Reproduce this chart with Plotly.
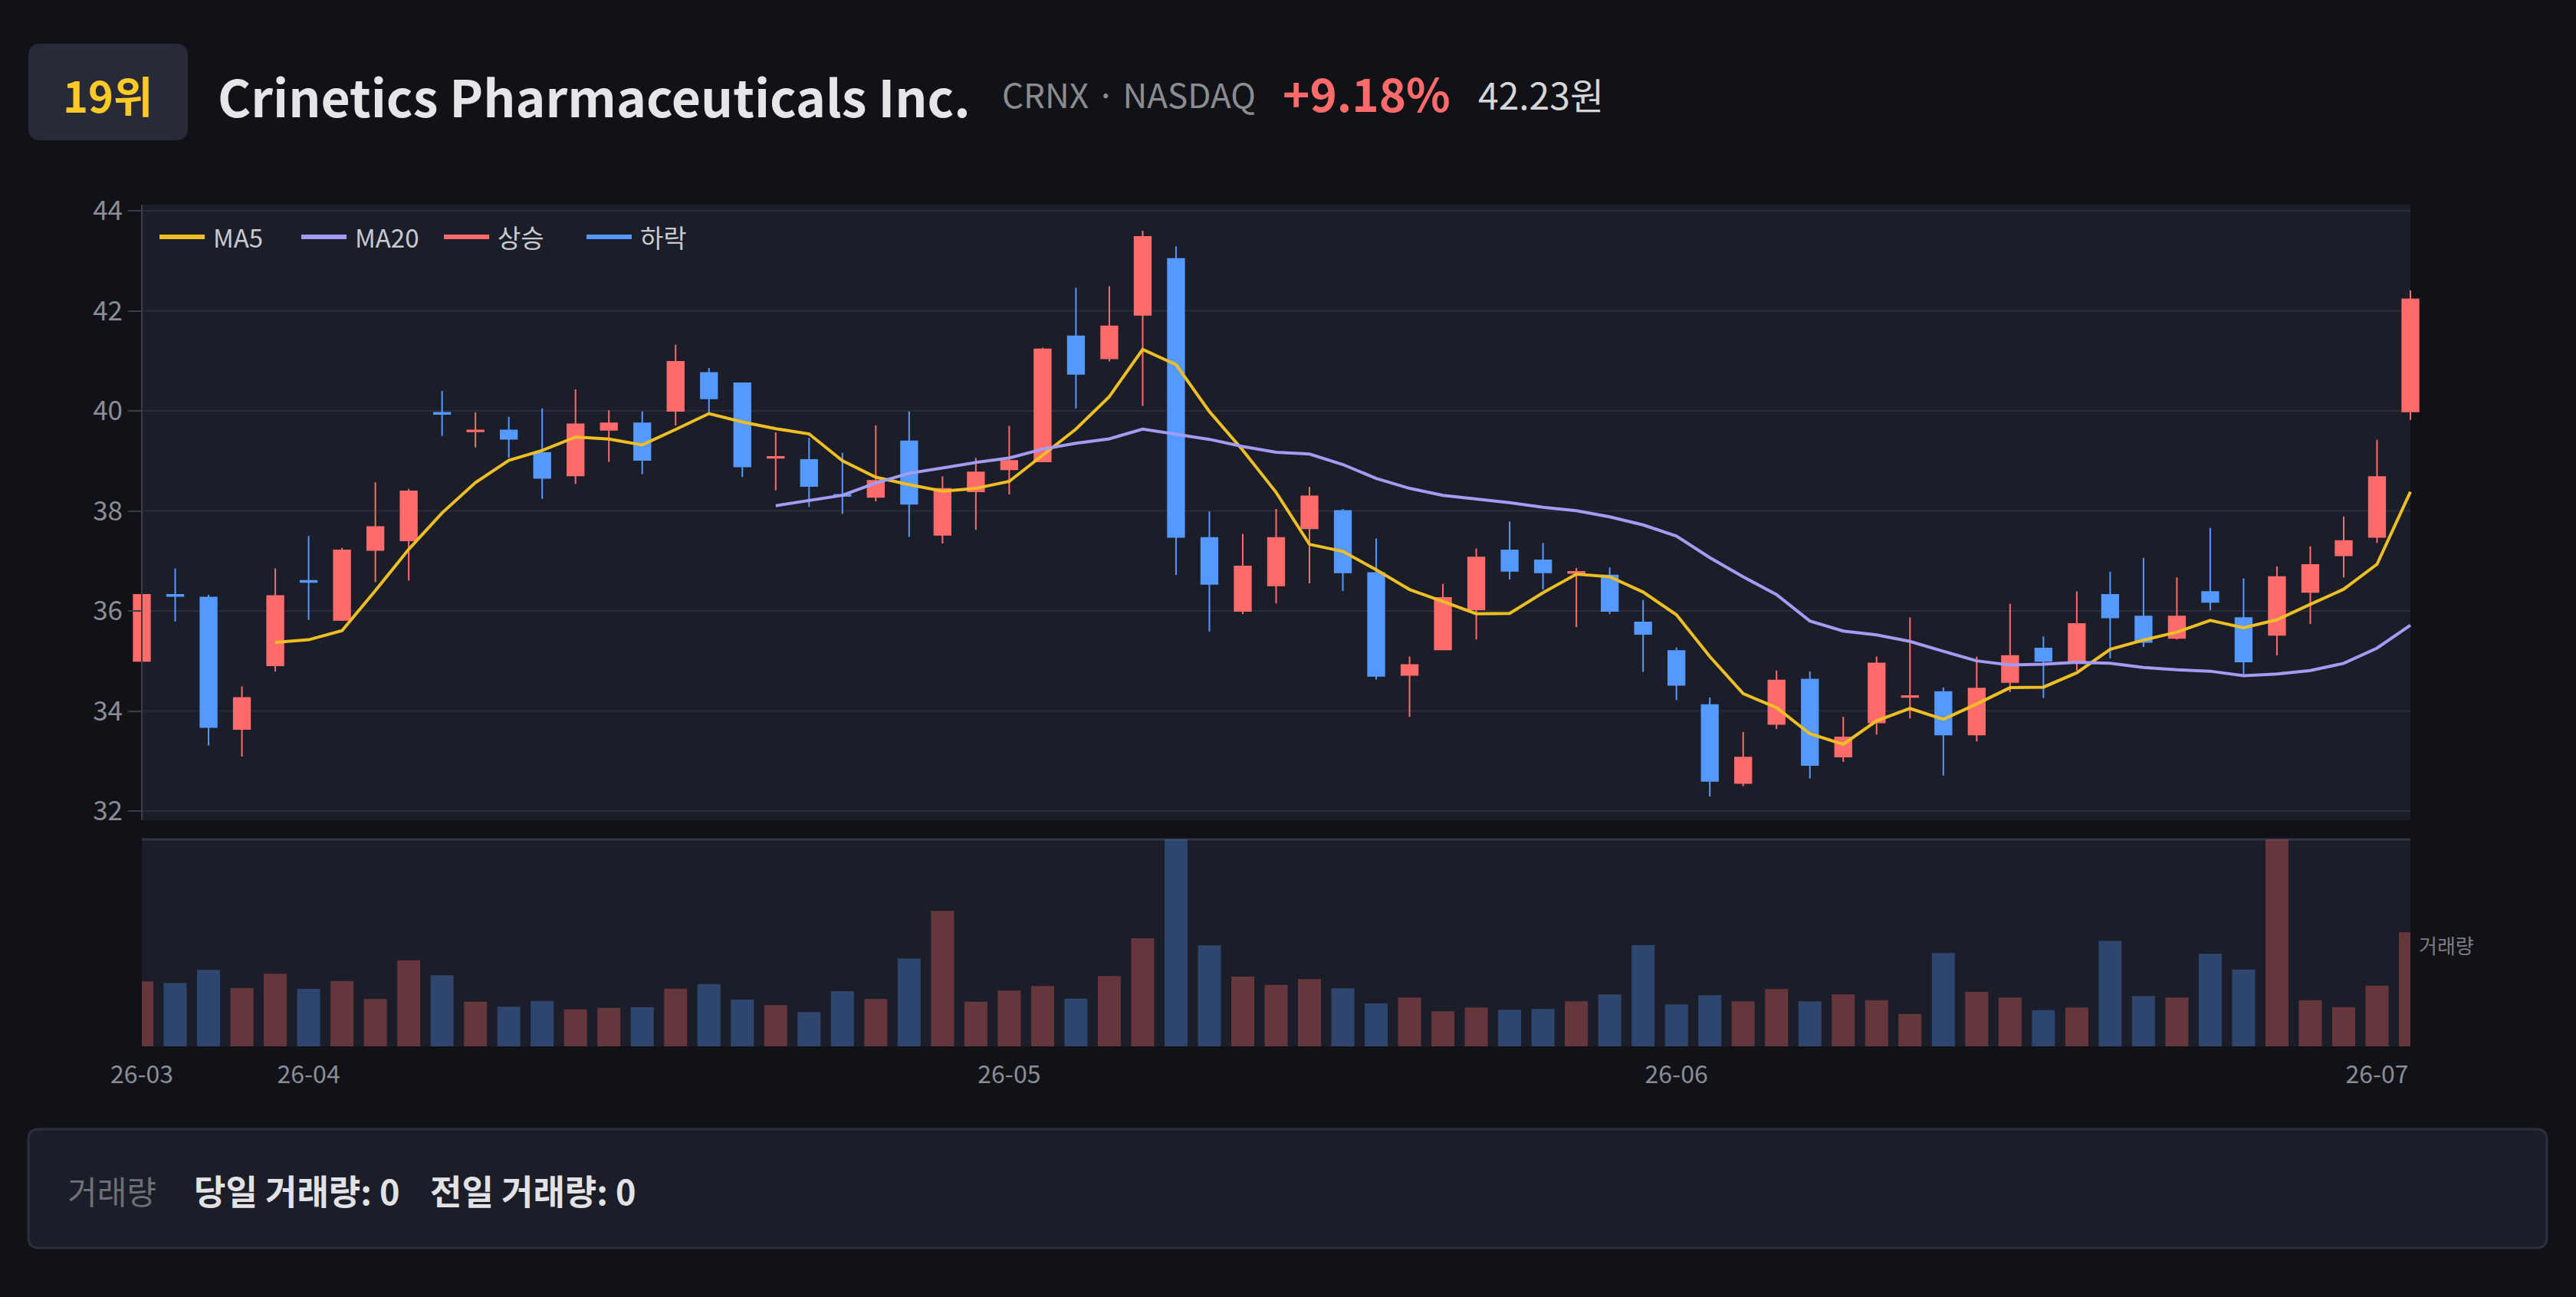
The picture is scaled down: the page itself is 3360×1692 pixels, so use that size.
import plotly.graph_objects as go
import pandas as pd

# ---------------- data ----------------
open_ = [35.00, 36.32, 36.27, 33.64, 34.91, 36.60, 35.82, 37.22, 37.41, 39.96,
         39.59, 39.61, 39.16, 38.71, 39.62, 39.75, 40.00, 40.76, 40.55, 39.06,
         39.02, 38.32, 38.28, 39.39, 37.52, 38.39, 38.83, 38.99, 41.49, 41.05,
         41.92, 43.04, 37.46, 36.00, 36.51, 37.65, 38.00, 36.76, 34.72, 35.23,
         36.03, 37.21, 37.01, 36.76, 36.71, 35.77, 35.20, 34.12, 32.56, 33.74,
         34.63, 33.09, 33.77, 34.28, 34.38, 33.53, 34.58, 35.25, 34.99, 36.32,
         35.89, 35.46, 36.38, 35.86, 35.52, 36.38, 37.11, 37.48, 39.99]
high = [36.50, 36.85, 36.32, 34.49, 36.85, 37.50, 37.26, 38.57, 38.44, 40.40,
        39.97, 39.88, 40.05, 40.43, 40.01, 39.99, 41.32, 40.86, 40.57, 39.57,
        39.46, 39.16, 39.71, 39.99, 38.69, 39.06, 39.70, 41.26, 42.46, 42.49,
        43.60, 43.29, 37.99, 37.54, 38.04, 38.48, 38.04, 37.45, 35.09, 36.54,
        37.25, 37.79, 37.36, 36.86, 36.87, 36.22, 35.27, 34.27, 33.58, 34.81,
        34.79, 33.88, 35.09, 35.87, 34.47, 35.09, 36.14, 35.49, 36.39, 36.78,
        37.06, 36.67, 37.66, 36.65, 36.89, 37.29, 37.89, 39.42, 42.41]
low = [34.89, 35.79, 33.31, 33.09, 34.79, 35.82, 35.80, 36.58, 36.61, 39.50,
       39.27, 39.06, 38.24, 38.54, 38.98, 38.73, 39.71, 39.97, 38.68, 38.41,
       38.08, 37.94, 38.19, 37.48, 37.35, 37.62, 38.33, 38.98, 40.05, 40.99,
       40.10, 36.72, 35.59, 35.94, 36.15, 36.55, 36.40, 34.63, 33.88, 35.22,
       35.43, 36.63, 36.43, 35.68, 35.94, 34.78, 34.22, 32.29, 32.50, 33.64,
       32.65, 32.98, 33.53, 33.85, 32.71, 33.39, 34.38, 34.26, 34.81, 35.05,
       35.28, 35.43, 36.01, 34.71, 35.11, 35.74, 36.67, 37.36, 39.82]
close = [36.32, 36.30, 33.68, 34.26, 36.30, 36.58, 37.21, 37.68, 38.39, 39.94,
         39.61, 39.44, 38.66, 39.73, 39.75, 39.02, 40.98, 40.25, 38.89, 39.08,
         38.50, 38.30, 38.60, 38.14, 38.44, 38.77, 39.00, 41.23, 40.74, 41.69,
         43.48, 37.48, 36.54, 36.89, 37.46, 38.29, 36.77, 34.70, 34.92, 36.26,
         37.07, 36.80, 36.77, 36.78, 36.00, 35.54, 34.52, 32.60, 33.07, 34.61,
         32.92, 33.47, 34.95, 34.30, 33.53, 34.45, 35.10, 35.00, 35.74, 35.87,
         35.38, 35.89, 36.18, 34.99, 36.68, 36.92, 37.40, 38.68, 42.23]
volume = [254, 248, 299, 228, 284, 225, 256, 185, 337, 278,
          175, 155, 178, 145, 151, 153, 226, 244, 183, 161,
          134, 216, 185, 344, 530, 175, 218, 236, 187, 275,
          423, 810, 395, 273, 241, 263, 227, 168, 191, 137,
          152, 143, 146, 176, 203, 396, 164, 200, 176, 224,
          176, 203, 181, 127, 365, 213, 191, 142, 152, 413,
          197, 191, 362, 301, 810, 181, 154, 238, 446]
tick_idx = [0, 5, 26, 46, 67]
tick_text = ["26-03", "26-04", "26-05", "26-06", "26-07"]
price_ticks = [32, 34, 36, 38, 40, 42, 44]
legend_names = ["MA5", "MA20", "상승", "하락"]

rank_text = "19위"
name_text = "Crinetics Pharmaceuticals Inc."
ticker_text = "CRNX · NASDAQ"
change_text = "+9.18%"
price_text = "42.23원"
vol_label = "거래량"
today_vol = "당일 거래량: 0"
prev_vol = "전일 거래량: 0"

# ---------------- styling ----------------
W, H = 3360, 1692
FONT = "Noto Sans CJK KR"
PAGE = "#111217"
PANEL = "#1b1d28"
GRID = "#2a2d39"
UP = "#ff6b6b"
DOWN = "#5599ff"
MA5C = "#eebf24"
MA20C = "#a39cf4"

def px(x):
    return x / W

def py(y):
    return 1 - y / H

n = len(close)
idx = list(range(n))
s = pd.Series(close)
ma5 = s.rolling(5).mean()
ma20 = s.rolling(20).mean()

up_flags = [c >= o for o, c in zip(open_, close)]
vol_colors = ["rgba(255,107,107,0.33)" if u else "rgba(85,153,255,0.33)" for u in up_flags]

# plot geometry (pixels)
X0, X1 = 185, 3144
step = (X1 - X0) / (n - 1)
P_TOP, P_BOT = 267, 1070
V_TOP, V_BOT = 1095, 1365
y_per_px = 12 / (1058 - 275)
y_lo = 32 - (P_BOT - 1058) * y_per_px
y_hi = 44 + (275 - P_TOP) * y_per_px

fig = go.Figure()

fig.add_trace(go.Candlestick(
    x=idx, open=open_, high=high, low=low, close=close,
    xaxis="x", yaxis="y",
    increasing=dict(line=dict(color=UP, width=2), fillcolor=UP),
    decreasing=dict(line=dict(color=DOWN, width=2), fillcolor=DOWN),
    whiskerwidth=0, showlegend=False, name="OHLC"))
fig.add_trace(go.Scatter(x=idx, y=ma5, mode="lines", line=dict(color=MA5C, width=4),
                         xaxis="x", yaxis="y", showlegend=False, name="MA5"))
fig.add_trace(go.Scatter(x=idx, y=ma20, mode="lines", line=dict(color=MA20C, width=4),
                         xaxis="x", yaxis="y", showlegend=False, name="MA20"))
fig.add_trace(go.Bar(x=idx, y=volume, marker=dict(color=vol_colors, line=dict(width=0)),
                     xaxis="x2", yaxis="y2", showlegend=False, name="거래량"))

shapes = []
# price panel background
shapes.append(dict(type="rect", xref="x", yref="paper", x0=0, x1=n - 1,
                   y0=py(P_BOT), y1=py(P_TOP), fillcolor=PANEL, line=dict(width=0), layer="below"))
for v in price_ticks:
    shapes.append(dict(type="line", xref="x", yref="y", x0=0, x1=n - 1, y0=v, y1=v,
                       line=dict(color=GRID, width=2), layer="below"))
# volume panel background and top line
shapes.append(dict(type="rect", xref="x2", yref="paper", x0=0, x1=n - 1,
                   y0=py(V_BOT), y1=py(V_TOP), fillcolor=PANEL, line=dict(width=0), layer="below"))
shapes.append(dict(type="line", xref="x2", yref="paper", x0=0, x1=n - 1,
                   y0=py(V_TOP), y1=py(V_TOP), line=dict(color="#2f3447", width=3), layer="below"))


def rrect(x0, y0, x1, y1, r):
    pts = [("M", x0 + r, y0), ("L", x1 - r, y0), ("Q", x1, y0, x1, y0 + r),
           ("L", x1, y1 - r), ("Q", x1, y1, x1 - r, y1), ("L", x0 + r, y1),
           ("Q", x0, y1, x0, y1 - r), ("L", x0, y0 + r), ("Q", x0, y0, x0 + r, y0)]
    out = []
    for p in pts:
        cmd = p[0]
        coords = p[1:]
        segs = []
        for i in range(0, len(coords), 2):
            segs.append(f"{px(coords[i]):.6f},{py(coords[i + 1]):.6f}")
        out.append(cmd + " ".join(segs))
    return " ".join(out) + " Z"


# header rank box
shapes.append(dict(type="path", xref="paper", yref="paper", path=rrect(37, 57, 245, 183, 16),
                   fillcolor="#272b37", line=dict(width=0), layer="below"))
# bottom info panel
shapes.append(dict(type="path", xref="paper", yref="paper", path=rrect(37, 1473, 3322, 1628, 14),
                   fillcolor=PANEL, line=dict(color="#2c303b", width=3), layer="below"))

# manual legend
leg_colors = [MA5C, MA20C, UP, DOWN]
leg_x = [208, 393, 579, 765]
LEG_Y = 309
annotations = []
for name, col, lx in zip(legend_names, leg_colors, leg_x):
    shapes.append(dict(type="line", xref="paper", yref="paper", x0=px(lx), x1=px(lx + 59),
                       y0=py(LEG_Y), y1=py(LEG_Y), line=dict(color=col, width=6), layer="above"))
    annotations.append(dict(xref="paper", yref="paper", x=px(lx + 68), y=py(LEG_Y),
                            xanchor="left", yanchor="middle", showarrow=False, text=name,
                            font=dict(family=FONT, size=33, color="#c9cacf")))


def ann(text, x, y, size, color, bold=False, anchor="left"):
    t = f"<b>{text}</b>" if bold else text
    annotations.append(dict(xref="paper", yref="paper", x=px(x), y=py(y), xanchor=anchor,
                            yanchor="middle", showarrow=False, text=t,
                            font=dict(family=FONT, size=size, color=color)))


ann(rank_text, 141, 122, 56, "#ffc928", bold=True, anchor="center")
ann(name_text, 282, 124, 66, "#e6e6e8", bold=True)
ann(ticker_text, 1305, 122, 44, "#8b8c90")
ann(change_text, 1671, 120, 60, UP, bold=True)
ann(price_text, 1926, 122, 48, "#d6d6d8")
ann(vol_label, 3153, 1232, 26, "#7b7e86")
ann(vol_label, 86, 1552, 42, "#6e7077")
ann(today_vol, 251, 1552, 45, "#e2e2e4", bold=True)
ann(prev_vol, 559, 1552, 45, "#e2e2e4", bold=True)

fig.update_layout(
    width=W, height=H, margin=dict(l=0, r=0, t=0, b=0, pad=0),
    paper_bgcolor=PAGE, plot_bgcolor=PAGE,
    font=dict(family=FONT, color="#8a8d96"),
    showlegend=False, bargap=0.31, hovermode=False,
    shapes=shapes, annotations=annotations,
    xaxis=dict(domain=[px(X0 - 0.5 * step), px(X1 + 0.5 * step)], range=[-0.5, n - 0.5],
               anchor="y", showgrid=False, zeroline=False, showticklabels=False,
               showline=False, rangeslider=dict(visible=False), fixedrange=True,
               automargin=False),
    yaxis=dict(domain=[py(P_BOT), py(P_TOP)], range=[y_lo, y_hi], anchor="free",
               position=px(X0), showgrid=False, zeroline=False, showline=True,
               linecolor="#3a3d46", linewidth=2, ticks="outside", ticklen=17,
               tickcolor="#3a3d46", tickwidth=2, tickvals=price_ticks,
               tickfont=dict(family=FONT, size=35, color="#8a8d96"), automargin=False),
    xaxis2=dict(domain=[px(X0), px(X1)], range=[0, n - 1], anchor="y2",
                showgrid=False, zeroline=False, showline=False,
                tickvals=tick_idx, ticktext=tick_text, ticks="outside", ticklen=9,
                tickcolor="rgba(0,0,0,0)", automargin=False,
                tickfont=dict(family=FONT, size=32, color="#8a8d96")),
    yaxis2=dict(domain=[py(V_BOT), py(V_TOP)], range=[0, max(volume)], anchor="x2",
                showgrid=False, zeroline=False, showticklabels=False, showline=False,
                automargin=False),
)

fig.write_html("out.html", config={"displayModeBar": False},
               post_script="document.body.style.margin='0';document.body.style.overflow='hidden';")
